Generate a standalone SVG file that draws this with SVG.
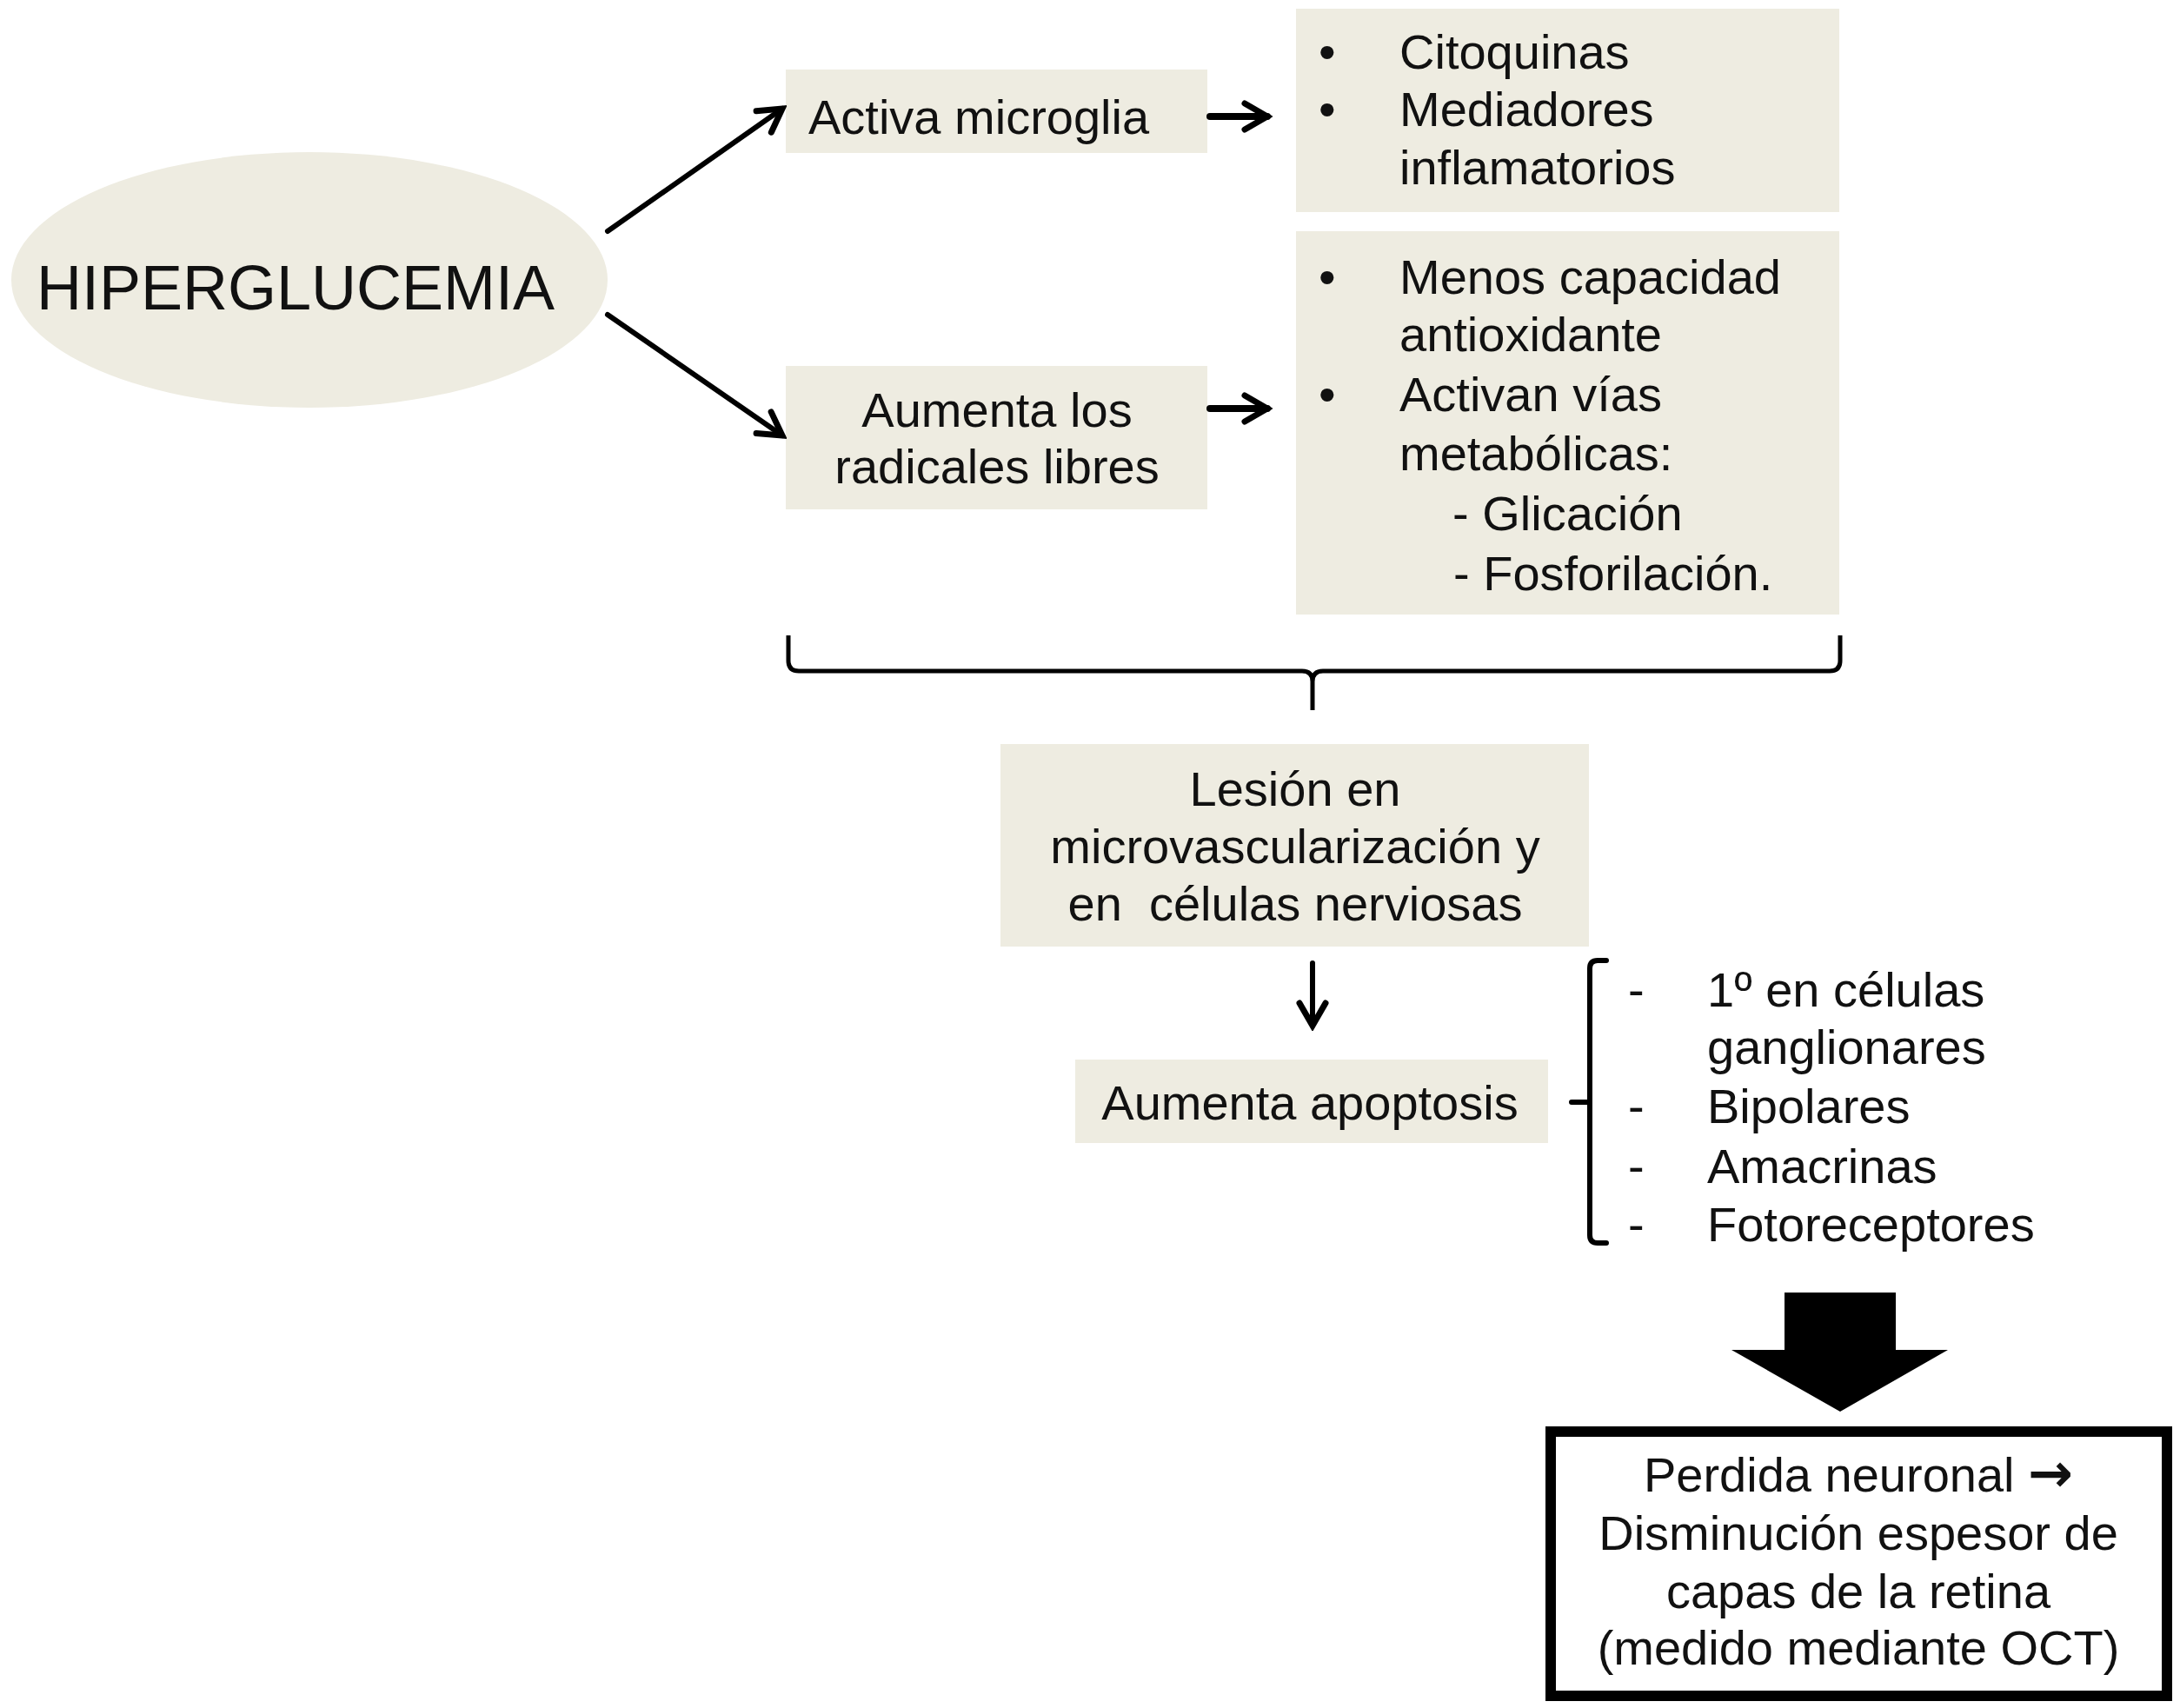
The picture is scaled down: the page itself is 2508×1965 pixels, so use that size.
<svg xmlns="http://www.w3.org/2000/svg" width="2508" height="1965" viewBox="0 0 2508 1965">
<defs>
<style>
.t{font-family:"Liberation Sans",Arial,sans-serif;font-size:56px;fill:#111;}
.c{text-anchor:middle;}
.box{fill:#EEECE1;}
.ln{fill:none;stroke:#000;stroke-width:6;stroke-linecap:round;}
.ar{font-family:"DejaVu Sans",sans-serif;font-size:62px;font-weight:bold;}
</style>
<marker id="chev" viewBox="0 0 40 40" refX="34" refY="20" markerWidth="40" markerHeight="40" markerUnits="userSpaceOnUse" orient="auto">
<path d="M8,5 L34,20 L8,35" fill="none" stroke="#000" stroke-width="7" stroke-linecap="round" stroke-linejoin="miter"/>
</marker>
</defs>
<rect width="2508" height="1965" fill="#fff"/>

<g id="hiperglucemia">
<ellipse cx="356" cy="322" rx="343" ry="147" class="box"/>
<text x="340" y="356" class="t c" style="font-size:72px">HIPERGLUCEMIA</text>
</g>

<g id="activa-microglia">
<rect x="904" y="80" width="485" height="96" class="box"/>
<text x="930" y="154" class="t">Activa microglia</text>
</g>

<g id="radicales">
<rect x="904" y="421" width="485" height="165" class="box"/>
<text x="1147" y="491" class="t c">Aumenta los</text>
<text x="1147" y="556" class="t c">radicales libres</text>
</g>

<g id="citoquinas">
<rect x="1491" y="10" width="625" height="234" class="box"/>
<text x="1517" y="79" class="t">•</text>
<text x="1610" y="79" class="t">Citoquinas</text>
<text x="1517" y="145" class="t">•</text>
<text x="1610" y="145" class="t">Mediadores</text>
<text x="1610" y="212" class="t">inflamatorios</text>
</g>

<g id="antioxidante">
<rect x="1491" y="266" width="625" height="441" class="box"/>
<text x="1517" y="338" class="t">•</text>
<text x="1610" y="338" class="t">Menos capacidad</text>
<text x="1610" y="404" class="t">antioxidante</text>
<text x="1517" y="473" class="t">•</text>
<text x="1610" y="473" class="t">Activan vías</text>
<text x="1610" y="541" class="t">metabólicas:</text>
<text x="1671" y="610" class="t">- Glicación</text>
<text x="1672" y="679" class="t">- Fosforilación.</text>
</g>

<g id="lesion">
<rect x="1151" y="856" width="677" height="233" class="box"/>
<text x="1490" y="927" class="t c">Lesión en</text>
<text x="1490" y="993" class="t c">microvascularización y</text>
<text x="1490" y="1059" class="t c" xml:space="preserve">en  células nerviosas</text>
</g>

<g id="apoptosis">
<rect x="1237" y="1219" width="544" height="96" class="box"/>
<text x="1507" y="1288" class="t c">Aumenta apoptosis</text>
</g>

<g id="celulas">
<text x="1873" y="1158" class="t">-</text>
<text x="1964" y="1158" class="t">1º en células</text>
<text x="1964" y="1224" class="t">ganglionares</text>
<text x="1873" y="1292" class="t">-</text>
<text x="1964" y="1292" class="t">Bipolares</text>
<text x="1873" y="1361" class="t">-</text>
<text x="1964" y="1361" class="t">Amacrinas</text>
<text x="1873" y="1428" class="t">-</text>
<text x="1964" y="1428" class="t">Fotoreceptores</text>
</g>

<g id="perdida">
<rect x="1784" y="1647" width="709" height="304" fill="#fff" stroke="#000" stroke-width="12"/>
<text x="2138" y="1716" class="t c">Perdida neuronal <tspan class="ar">→</tspan></text>
<text x="2138" y="1783" class="t c">Disminución espesor de</text>
<text x="2138" y="1850" class="t c">capas de la retina</text>
<text x="2138" y="1915" class="t c">(medido mediante OCT)</text>
</g>

<g id="connectors">
<line x1="699" y1="266" x2="900" y2="125" class="ln" marker-end="url(#chev)"/>
<line x1="699" y1="362" x2="900" y2="501" class="ln" marker-end="url(#chev)"/>
<line x1="1392" y1="134" x2="1458" y2="134" class="ln" style="stroke-width:8" marker-end="url(#chev)"/>
<line x1="1392" y1="470" x2="1458" y2="470" class="ln" style="stroke-width:8" marker-end="url(#chev)"/>
<path d="M907,731 V760 Q907,772 919,772 H1498 Q1510,772 1510,784 V817 M1510,784 Q1510,772 1522,772 H2105 Q2117,772 2117,760 V731" fill="none" stroke="#000" stroke-width="5"/>
<line x1="1510" y1="1108" x2="1510" y2="1180" class="ln" marker-end="url(#chev)"/>
<path d="M1848,1105 H1838 Q1829,1105 1829,1114 V1421 Q1829,1430 1838,1430 H1848 M1829,1268 H1808" fill="none" stroke="#000" stroke-width="6" stroke-linecap="round"/>
<polygon points="2053,1487 2181,1487 2181,1553 2241,1553 2117,1624 1992,1553 2053,1553" fill="#000"/>
</g>
</svg>
